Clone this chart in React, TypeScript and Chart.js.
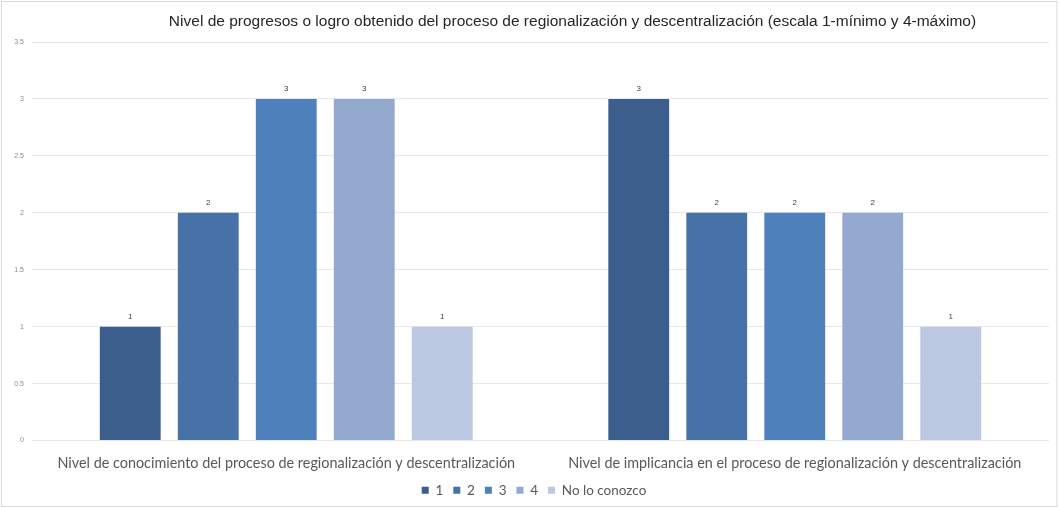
import React, { useEffect, useRef } from "react";
import { Chart, registerables } from "chart.js";

Chart.register(...registerables);

// Categories on the x axis
const categories = [
  "Nivel de conocimiento del proceso de regionalización y descentralización",
  "Nivel de implicancia en el proceso de regionalización y descentralización",
];

// One series per rating level
const seriesNames = ["1", "2", "3", "4", "No lo conozco"];
const values1 = [1, 3];
const values2 = [2, 2];
const values3 = [3, 2];
const values4 = [3, 2];
const valuesUnknown = [1, 1];
const seriesColors = ["#3b5e8d", "#4672a7", "#4e80bc", "#93a9d0", "#bac8e2"];

const yTicks = [0, 0.5, 1, 1.5, 2, 2.5, 3, 3.5];

const titleText =
  "Nivel de progresos o logro obtenido del proceso de regionalización y descentralización (escala 1-mínimo y 4-máximo)";

// Frame around the whole figure
const framePlugin = {
  id: "frame",
  beforeDraw(chart: any) {
    const { ctx, width, height } = chart;
    ctx.save();
    ctx.fillStyle = "#ffffff";
    ctx.fillRect(0, 0, width, height);
    ctx.strokeStyle = "#d9d9d9";
    ctx.lineWidth = 1;
    ctx.strokeRect(1.5, 1.5, width - 3.5, height - 3);
    ctx.restore();
  },
};

// Nudge the legend box a little to the right of the canvas centre
const legendShiftPlugin = {
  id: "legendShift",
  afterLayout(chart: any) {
    const lg = chart.legend;
    if (lg) {
      lg.left += 9.5;
      lg.right += 9.5;
    }
  },
};

// Title, placed a little right of the plot centre
const titlePlugin = {
  id: "sideTitle",
  afterDraw(chart: any) {
    const { ctx, chartArea } = chart;
    ctx.save();
    ctx.font = "15.5px 'Liberation Sans', Arial, sans-serif";
    ctx.fillStyle = "#262626";
    ctx.textAlign = "center";
    ctx.textBaseline = "middle";
    ctx.fillText(titleText, (chartArea.left + chartArea.right) / 2 + 32, chartArea.top - 20);
    ctx.restore();
  },
};

// Value labels above each bar
const valueLabelPlugin = {
  id: "valueLabels",
  afterDatasetsDraw(chart: any) {
    const { ctx } = chart;
    ctx.save();
    ctx.font = "8px 'Liberation Sans', Arial, sans-serif";
    ctx.fillStyle = "#404040";
    ctx.textAlign = "center";
    ctx.textBaseline = "bottom";
    chart.data.datasets.forEach((ds: any, i: number) => {
      const meta = chart.getDatasetMeta(i);
      meta.data.forEach((bar: any, j: number) => {
        ctx.fillText(String(ds.data[j]), bar.x, bar.y - 6);
      });
    });
    ctx.restore();
  },
};

export default function App() {
  const canvasRef = useRef<HTMLCanvasElement | null>(null);

  useEffect(() => {
    const seriesValues = [values1, values2, values3, values4, valuesUnknown];
    const chart = new Chart(canvasRef.current!, {
      type: "bar",
      data: {
        labels: categories,
        datasets: seriesNames.map((name, i) => ({
          label: name,
          data: seriesValues[i],
          backgroundColor: seriesColors[i],
          categoryPercentage: 0.767,
          barPercentage: 0.78,
        })),
      },
      options: {
        animation: false,
        responsive: false,
        devicePixelRatio: 1,
        layout: { padding: { left: 0, right: 10, top: 42, bottom: 1 } },
        plugins: {
          title: { display: false },
          legend: {
            position: "bottom",
            labels: {
              boxWidth: 7,
              boxHeight: 7,
              padding: 10,
              color: "#595959",
              font: { family: "Lato, 'Open Sans', sans-serif", size: 13.5 },
            },
          },
          tooltip: { enabled: false },
        },
        scales: {
          x: {
            grid: { display: false, drawTicks: false },
            border: { display: false },
            ticks: {
              color: "#595959",
              padding: 14,
              maxRotation: 0,
              font: { family: "Lato, 'Open Sans', sans-serif", size: 14.4 },
            },
            afterFit(scale: any) {
              scale.height = 33;
            },
          },
          y: {
            min: 0,
            max: 3.5,
            afterBuildTicks(scale: any) {
              scale.ticks = yTicks.map((v) => ({ value: v }));
            },
            grid: { color: "#e8e8e8", drawTicks: false },
            border: { display: false },
            ticks: {
              color: "#8c8c8c",
              padding: 8,
              font: { family: "'Liberation Sans', Arial, sans-serif", size: 7 },
              callback: (v: any) => String(v),
            },
            afterFit(scale: any) {
              scale.width = 32;
            },
          },
        },
      },
      plugins: [framePlugin, legendShiftPlugin, titlePlugin, valueLabelPlugin],
    } as any);
    return () => chart.destroy();
  }, []);

  return (
    <div style={{ position: "absolute", left: 0, top: 0, width: 1059, height: 508 }}>
      <canvas ref={canvasRef} width={1059} height={508} />
    </div>
  );
}
